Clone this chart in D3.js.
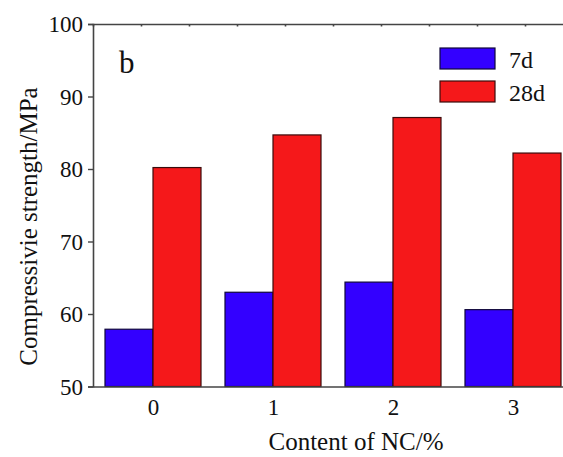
<!DOCTYPE html>
<html>
<head>
<meta charset="utf-8">
<script src="https://cdn.jsdelivr.net/npm/d3@7/dist/d3.min.js"></script>
<style>
  html, body { margin: 0; padding: 0; background: #fff; }
  svg { display: block; }
  text { font-family: "Liberation Serif", "Times New Roman", serif; fill: #111; }
</style>
</head>
<body>
<script>
const categories = ["0", "1", "2", "3"];
const seriesNames = ["7d", "28d"];
const values7d = [57.9, 63.0, 64.4, 60.6];
const values28d = [80.2, 84.7, 87.1, 82.2];
const yTicks = [50, 60, 70, 80, 90, 100];

(function () {
const W = 563, H = 457;
const svg = d3.select("body").append("svg").attr("width", W).attr("height", H);

const pLeft = 93, pTop = 24, pBottom = 386.5;
const x = d3.scaleLinear().domain([-0.5, 3.5]).range([pLeft, pLeft + 480]);
const y = d3.scaleLinear().domain([50, 100]).range([pBottom, pTop]);
const barW = 0.4;
const colors = ["#3300ff", "#f5181a"];
const strokes = ["#10083a", "#3a0c0c"];
const series = [values7d, values28d];

// bars
series.forEach((vals, si) => {
  svg.append("g").selectAll("rect").data(vals).join("rect")
    .attr("x", (d, i) => x(i + (si === 0 ? -barW : 0)))
    .attr("y", d => y(d))
    .attr("width", x(barW) - x(0))
    .attr("height", d => y(50) - y(d))
    .attr("fill", colors[si])
    .attr("stroke", strokes[si])
    .attr("stroke-width", 1.2);
});

const axisColor = "#444";
// left axis
const yAxis = d3.axisLeft(y).tickValues(yTicks).tickSize(5).tickPadding(5);
const gy = svg.append("g").attr("transform", `translate(${pLeft},0)`).call(yAxis);
gy.select(".domain").attr("stroke", axisColor).attr("stroke-width", 1.6);
gy.selectAll(".tick line").attr("stroke", axisColor).attr("stroke-width", 1.4);
gy.selectAll(".tick text").attr("font-size", 23).attr("dy", "0.33em")
  .attr("font-family", "Liberation Serif").attr("fill", "#111");

// bottom axis
const xAxis = d3.axisBottom(x).tickValues(categories.map((c, i) => i))
  .tickFormat((d, i) => categories[i]).tickSize(0).tickPadding(12);
const gx = svg.append("g").attr("transform", `translate(0,${pBottom})`).call(xAxis);
gx.select(".domain").attr("stroke", axisColor).attr("stroke-width", 1.6);
gx.selectAll(".tick text").attr("font-size", 23).attr("font-family", "Liberation Serif").attr("fill", "#111");

// top axis with small inward ticks
const topTicks = d3.range(1, 10).map(k => -0.5 + 0.4 * k);
const xTop = d3.axisTop(x).tickValues(topTicks).tickSize(-2.5).tickFormat("");
const gt = svg.append("g").attr("transform", `translate(0,${pTop})`).call(xTop);
gt.select(".domain").attr("stroke", axisColor).attr("stroke-width", 1.6);
gt.selectAll(".tick line").attr("stroke", axisColor).attr("stroke-width", 1.6);

// panel label
svg.append("text").attr("x", 119).attr("y", 73).attr("font-size", 31).text("b");

// legend
seriesNames.forEach((name, i) => {
  const ly = 48 + i * 33;
  svg.append("rect").attr("x", 440).attr("y", ly).attr("width", 55).attr("height", 21)
    .attr("fill", colors[i]).attr("stroke", strokes[i]).attr("stroke-width", 1.2);
  svg.append("text").attr("x", 509).attr("y", ly + 19.5).attr("font-size", 24).text(name);
});

// axis titles
svg.append("text")
  .attr("transform", `translate(37,${(82 + 371) / 2}) rotate(-90)`)
  .attr("text-anchor", "middle").attr("font-size", 25)
  .text("Compressivie strength/MPa");

svg.append("text").attr("x", (267 + 445) / 2).attr("y", 450)
  .attr("text-anchor", "middle").attr("font-size", 25)
  .text("Content of NC/%");
})();
</script>
</body>
</html>
